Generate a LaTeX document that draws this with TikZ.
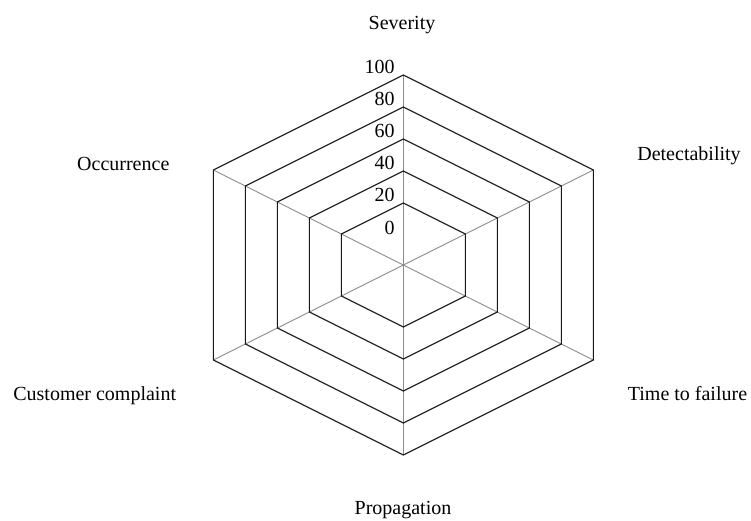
\documentclass[tikz,border=0pt]{standalone}
\usepackage{fontspec}
\setmainfont{Liberation Serif}
\usetikzlibrary{calc}
\begin{document}
\begin{tikzpicture}[x=1pt,y=-1pt,
  ring/.style={draw=black!90,line width=1.1pt,line join=miter},
  spoke/.style={draw=black!45,line width=0.9pt},
  axislabel/.style={font=\fontsize{20}{24}\selectfont,anchor=base,inner sep=0pt},
  ticklabel/.style={font=\fontsize{20}{24}\selectfont,anchor=base east,inner sep=0pt}]
\useasboundingbox (0,0) rectangle (751,521);
\coordinate (c) at (403.3,265);

% outer vertices of the six axes
\coordinate (vsev) at ($(c)+(0,-190)$);
\coordinate (vdet) at ($(c)+(190,-95)$);
\coordinate (vtim) at ($(c)+(190,95)$);
\coordinate (vpro) at ($(c)+(0,190)$);
\coordinate (vcus) at ($(c)+(-190,95)$);
\coordinate (vocc) at ($(c)+(-190,-95)$);

% spokes
\foreach \v in {vsev,vdet,vtim,vpro,vcus,vocc}
  \draw[spoke] (c) -- (\v);

% grid rings (20, 40, 60, 80, 100)
\foreach \r in {62,94,126,158,190}
  \draw[ring,shift={(c)}] (0,-\r) -- (\r,-\r/2) -- (\r,\r/2) -- (0,\r)
        -- (-\r,\r/2) -- (-\r,-\r/2) -- cycle;

% scale values
\foreach \val/\r in {0/30,20/62,40/94,60/126,80/158,100/190}
  \node[ticklabel] (t\val) at ($(c)+(-8.5,-\r-1)$) {\val};

% axis names
\node[axislabel] (lsev) at (402,29.3)   {Severity};
\node[axislabel] (ldet) at (689,161)    {Detectability};
\node[axislabel] (locc) at (123.3,171)  {Occurrence};
\node[axislabel] (lcus) at (94.7,400)   {Customer complaint};
\node[axislabel] (ltim) at (687.5,400)  {Time to failure};
\node[axislabel] (lpro) at (403,514.5)  {Propagation};
\end{tikzpicture}
\end{document}
